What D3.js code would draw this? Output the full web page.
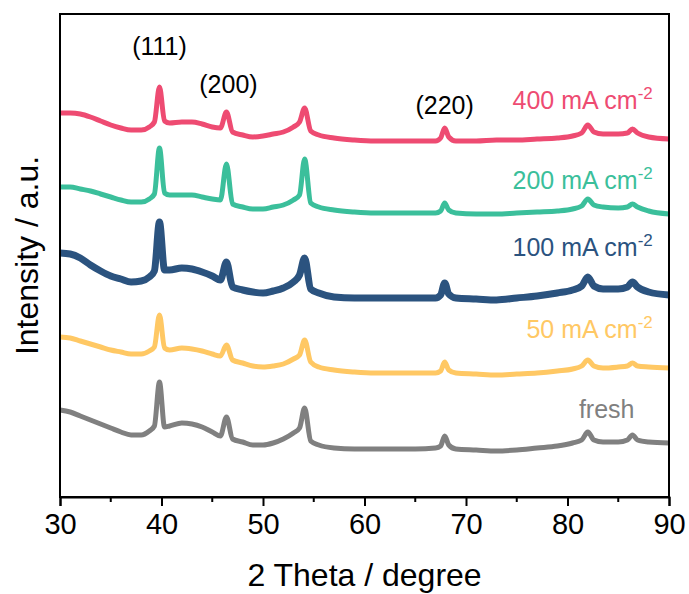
<!DOCTYPE html>
<html>
<head>
<meta charset="utf-8">
<script src="https://cdn.jsdelivr.net/npm/d3@7"></script>
<style>
  body { margin: 0; background: #fff; }
  text { font-family: "Liberation Sans", Arial, sans-serif; }
</style>
</head>
<body>
<svg id="xrd" width="689" height="594"></svg>
<script>
// 2 theta grid (degree)
var theta = [30, 31, 32, 33, 34, 35, 36, 37, 38, 38.8, 39.3, 39.8, 40.3, 40.8,
  42, 43, 44, 45, 45.8, 46.4, 47, 48, 49, 50, 51, 52, 53, 53.6, 54.1, 54.7, 55.5,
  57, 59, 61, 63, 65, 67, 67.5, 67.9, 68.3, 69, 71, 73, 75, 77, 79, 80.5,
  81.4, 82.0, 82.6, 83.5, 85, 85.9, 86.4, 86.9, 88, 90];

// stacked intensities (a.u.)
var i400 = [384, 384, 383, 380, 376, 372, 369, 367, 367, 370, 375, 410, 376, 374,
  375, 375, 373, 370, 369, 385, 365, 362, 360, 361, 363, 365, 370, 375, 389, 366, 362,
  359, 357, 356, 356, 356, 356, 359, 369, 360, 356, 356, 357, 357, 358, 359, 361,
  364, 372, 365, 363, 363, 364, 368, 364, 360, 358];
var i200 = [310, 310, 308, 306, 303, 300, 297, 295, 295, 298, 303, 349, 304, 302,
  302, 302, 300, 298, 297, 333, 293, 290, 288, 288, 290, 292, 297, 302, 338, 294, 290,
  287, 285, 284, 284, 284, 284, 286, 294, 287, 284, 283, 283, 284, 285, 286, 288,
  291, 298, 292, 290, 289, 290, 293, 290, 286, 283];
var i100 = [244, 243, 239, 232, 226, 221, 218, 215, 216, 220, 226, 275, 227, 227,
  229, 228, 225, 221, 217, 235, 210, 207, 205, 204, 206, 209, 215, 222, 239, 208, 204,
  200, 199, 199, 199, 199, 199, 202, 214, 203, 199, 198, 197, 199, 201, 204, 207,
  211, 220, 211, 208, 208, 210, 215, 210, 205, 202];
var i50 = [160, 159, 156, 153, 150, 147, 145, 143, 143, 146, 150, 182, 149, 147,
  149, 148, 146, 143, 141, 152, 137, 134, 131, 130, 131, 133, 138, 142, 157, 135, 130,
  127, 125, 124, 124, 124, 124, 126, 135, 127, 124, 123, 122, 123, 124, 126, 128,
  131, 137, 131, 129, 130, 131, 134, 131, 130, 129];
var iFresh = [87, 85, 81, 77, 73, 69, 65, 62, 62, 66, 71, 115, 70, 71,
  74, 73, 70, 65, 61, 80, 58, 55, 52, 52, 54, 58, 64, 69, 89, 56, 52,
  49, 48, 48, 48, 48, 49, 51, 61, 52, 48, 47, 46, 47, 49, 51, 54,
  57, 65, 57, 55, 55, 57, 62, 57, 55, 54];

var seriesNames = ["400 mA cm", "200 mA cm", "100 mA cm", "50 mA cm", "fresh"];
var seriesSup = ["-2", "-2", "-2", "-2", ""];
var seriesLabelX = [88.4, 88.4, 88.4, 88.4, 86.6];
var seriesLabelY = [388, 308, 241, 159, 79];
var seriesColors = ["#ee4b72", "#3bbf9b", "#2b537f", "#ffc864", "#808080"];
var seriesData = [i400, i200, i100, i50, iFresh];

var peakLabels = ["(111)", "(200)", "(220)"];
var peakTheta = [39.8, 46.6, 67.9];
var peakLabelY = [442, 404, 383];

var xTicks = [30, 40, 50, 60, 70, 80, 90];
var xMinor = [35, 45, 55, 65, 75, 85];

var svg = d3.select("#xrd"),
  margin = { left: 60, right: 20, top: 14, bottom: 97 },
  width = +svg.attr("width") - margin.left - margin.right,
  height = +svg.attr("height") - margin.top - margin.bottom;

var g = svg.append("g")
  .attr("transform", "translate(" + margin.left + "," + margin.top + ")");

var x = d3.scaleLinear().domain([30, 90]).range([0, width]);
var y = d3.scaleLinear().domain([0, 483]).range([height, 0]);

var line = d3.line()
  .x(function (d) { return x(d[0]); })
  .y(function (d) { return y(d[1]); })
  .curve(d3.curveMonotoneX);

// draw bottom series first
for (var s = seriesData.length - 1; s >= 0; s--) {
  var pts = theta.map(function (t, i) { return [t, seriesData[s][i]]; });
  g.append("path")
    .datum(pts)
    .attr("fill", "none")
    .attr("stroke", seriesColors[s])
    .attr("stroke-width", s == 2 ? 7 : 5)
    .attr("stroke-linejoin", "round")
    .attr("d", line);
}

// series labels
seriesNames.forEach(function (name, i) {
  var t = g.append("text")
    .attr("x", x(seriesLabelX[i]))
    .attr("y", y(seriesLabelY[i]))
    .attr("text-anchor", "end")
    .attr("fill", seriesColors[i])
    .style("font-size", "25px");
  t.append("tspan").text(name);
  if (seriesSup[i]) {
    t.append("tspan")
      .attr("dy", "-10")
      .style("font-size", "17px")
      .text(seriesSup[i]);
  }
});

// peak labels
peakLabels.forEach(function (lab, i) {
  g.append("text")
    .attr("x", x(peakTheta[i]))
    .attr("y", y(peakLabelY[i]))
    .attr("text-anchor", "middle")
    .style("font-size", "25px")
    .text(lab);
});

// frame
g.append("rect")
  .attr("width", width)
  .attr("height", height)
  .attr("fill", "none")
  .attr("stroke", "#000")
  .attr("stroke-width", 2);

var xAxis = g.append("g")
  .attr("transform", "translate(0," + height + ")")
  .call(d3.axisBottom(x).tickValues(xTicks).tickSize(9).tickPadding(7).tickFormat(d3.format("d")));
xAxis.select(".domain").attr("stroke-width", 2);
xAxis.selectAll(".tick line").attr("stroke-width", 2);
xAxis.selectAll("text")
  .style("font-size", "29px")
  .style("font-family", "Liberation Sans, Arial, sans-serif");

g.append("g")
  .attr("transform", "translate(0," + height + ")")
  .selectAll("line")
  .data(xMinor)
  .enter()
  .append("line")
  .attr("x1", function (d) { return x(d); })
  .attr("x2", function (d) { return x(d); })
  .attr("y1", 0)
  .attr("y2", 5)
  .attr("stroke", "#000")
  .attr("stroke-width", 2);

// axis titles
svg.append("text")
  .attr("x", margin.left + width / 2)
  .attr("y", 586)
  .attr("text-anchor", "middle")
  .style("font-size", "32px")
  .text("2 Theta / degree");

svg.append("text")
  .attr("transform", "translate(38," + (margin.top + height / 2) + ") rotate(-90)")
  .attr("text-anchor", "middle")
  .style("font-size", "32px")
  .text("Intensity / a.u.");
</script>
</body>
</html>
